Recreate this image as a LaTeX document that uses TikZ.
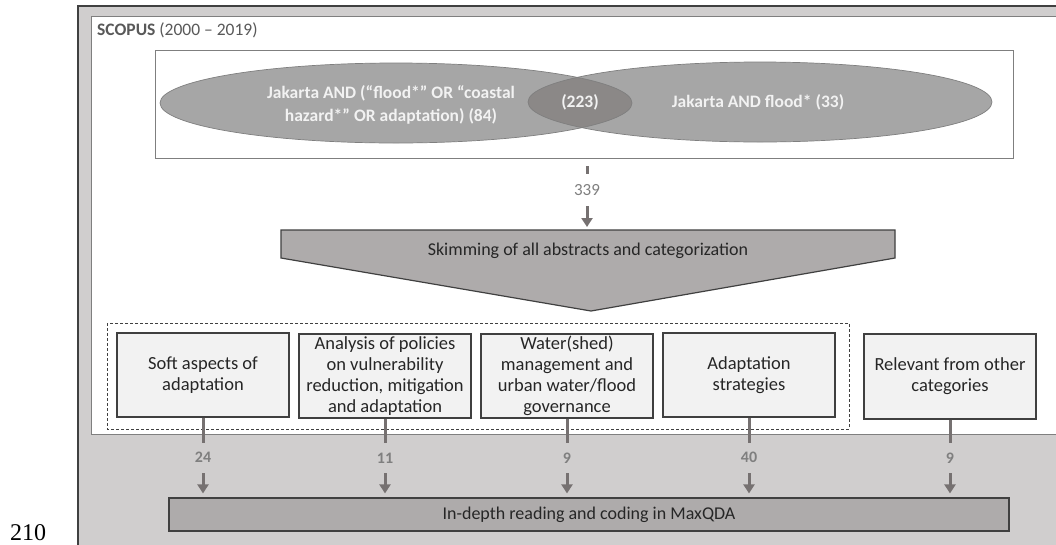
\documentclass[tikz,border=0pt]{standalone}
\usepackage{fontspec}
\setmainfont{Carlito}
\newfontfamily\pagenumfont{Liberation Serif}
\usetikzlibrary{arrows.meta,shapes.geometric}
\definecolor{outergrey}{HTML}{D0CECE}
\definecolor{darkline}{HTML}{404040}
\definecolor{midline}{HTML}{7F7F7F}
\definecolor{ellfill}{HTML}{A6A6A6}
\definecolor{overlapfill}{HTML}{8B8887}
\definecolor{procfill}{HTML}{AEABAB}
\definecolor{catfill}{HTML}{F2F2F2}
\definecolor{connc}{HTML}{767171}
\definecolor{labc}{HTML}{7F7F7F}
\definecolor{txt}{HTML}{262626}
\definecolor{scopusc}{HTML}{595959}
\definecolor{elltxt}{HTML}{F2F2F2}
\tikzset{
  catbox/.style={draw=darkline, line width=1.3pt, fill=catfill, minimum width=172pt,
    minimum height=84pt, inner sep=0pt, align=center, text=txt,
    font=\fontsize{18.5}{21}\selectfont},
  conn/.style={draw=connc, line width=3pt, -{Triangle[width=11pt,length=9pt]}},
  numlab/.style={text=labc, font=\fontsize{16}{18}\selectfont\bfseries, minimum height=30pt, inner sep=1pt},
  elltext/.style={text=elltxt, font=\fontsize{17.5}{23}\selectfont\bfseries, align=center},
}
\begin{document}
\begin{tikzpicture}[x=1pt,y=-1pt]
\path[use as bounding box] (0,0) rectangle (1056,544);
\clip (0,0) rectangle (1056,544);
% outer grey frame and inner white frame
\draw[fill=outergrey, draw=darkline, line width=1.3pt] (78,6) rectangle (1075,560);
\draw[fill=white, draw=midline, line width=1pt] (91,16) rectangle (1075,434);
\node[anchor=west, text=scopusc, font=\fontsize{17.5}{20}\selectfont, inner sep=0pt] (scopus) at (97,30) {\textbf{SCOPUS} (2000 – 2019)};
% query box
\node[draw=midline, line width=0.8pt, fill=white, minimum width=858pt, minimum height=108pt, inner sep=0pt] (q) at (584,104) {};
% ellipses
\fill[ellfill] (396,103) ellipse [x radius=236, y radius=40];
\fill[ellfill] (760,102) ellipse [x radius=232, y radius=40];
\begin{scope}
  \clip (396,103) ellipse [x radius=236, y radius=40];
  \fill[overlapfill] (760,102) ellipse [x radius=232, y radius=40];
\end{scope}
\node[draw=midline, line width=0.7pt, ellipse, minimum width=472pt, minimum height=80pt, inner sep=0pt] (e1) at (396,103) {};
\node[draw=midline, line width=0.7pt, ellipse, minimum width=464pt, minimum height=80pt, inner sep=0pt] (e2) at (760,102) {};
\node[elltext] (t1) at (391,105) {Jakarta AND (“flood*” OR “coastal\\hazard*” OR adaptation) (84)};
\node[elltext] (t12) at (580,102) {(223)};
\node[elltext] (t2) at (758,102) {Jakarta AND flood* (33)};
% skimming pentagon
\draw[fill=procfill, draw=darkline, line width=1.2pt] (281,230) -- (895,230) -- (895,258) -- (591,311) -- (281,258) -- cycle;
\node[text=txt, font=\fontsize{18}{20}\selectfont] (skim) at (588,251) {Skimming of all abstracts and categorization};
\coordinate (qout) at (587,158);
\coordinate (skimtop) at (587,230);
\draw[conn, shorten <=8pt, shorten >=3pt] (qout) -- (skimtop) node[pos=0.44, fill=white, text=labc, font=\fontsize{17}{19}\selectfont, minimum height=32pt, inner sep=1pt] (n339) {339};
% dashed group
\draw[darkline, line width=0.8pt, dash pattern=on 3pt off 2pt] (107,323) rectangle (849,429);
% category boxes
\node[catbox] (c1) at (203,375) {Soft aspects of\\adaptation};
\node[catbox] (c2) at (385,376) {Analysis of policies\\on vulnerability\\reduction, mitigation\\and adaptation};
\node[catbox] (c3) at (567,376) {Water(shed)\\management and\\urban water/flood\\governance};
\node[catbox] (c4) at (749,375) {Adaptation\\strategies};
\node[catbox, minimum height=85pt] (c5) at (950,376.5) {Relevant from other\\categories};
% bottom box
\node[draw=darkline, line width=1.2pt, fill=procfill, minimum width=840pt, minimum height=33pt, inner sep=0pt, text=txt, font=\fontsize{18}{20}\selectfont] (mq) at (589,514.5) {In-depth reading and coding in MaxQDA};
% connectors
\draw[conn, shorten >=4pt] (c1.south) -- (c1.south |- mq.north) node[midway, numlab, fill=outergrey] (l1) {24};
\draw[conn, shorten >=4pt] (c2.south) -- (c2.south |- mq.north) node[midway, numlab, fill=outergrey] (l2) {11};
\draw[conn, shorten >=4pt] (c3.south) -- (c3.south |- mq.north) node[midway, numlab, fill=outergrey] (l3) {9};
\draw[conn, shorten >=4pt] (c4.south) -- (c4.south |- mq.north) node[midway, numlab, fill=outergrey] (l4) {40};
\draw[conn, shorten >=4pt] (c5.south) -- (c5.south |- mq.north) node[pos=0.49, numlab, fill=outergrey] (l5) {9};
% page number
\node[anchor=base west, font=\pagenumfont\fontsize{24}{26}\selectfont, inner sep=0pt] (pg) at (10,540) {210};
\end{tikzpicture}
\end{document}
